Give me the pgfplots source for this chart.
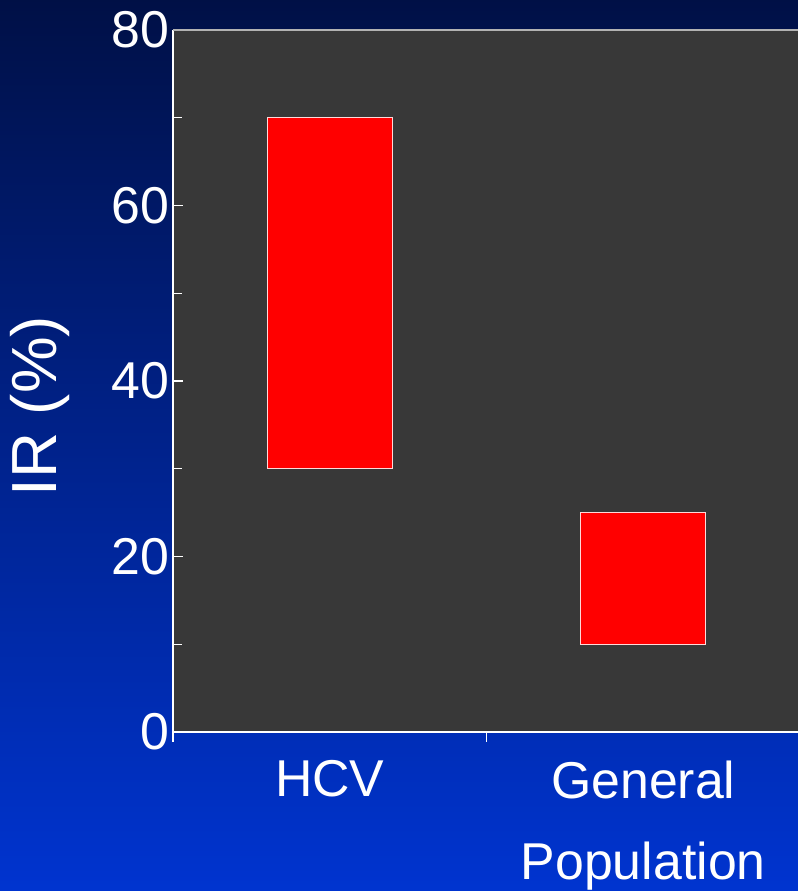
\documentclass[border=0pt]{standalone}
\usepackage{fontspec}
\setmainfont{Liberation Sans}
\usepackage{pgfplots}
\pgfplotsset{compat=1.18}

\definecolor{bgtop}{RGB}{0,16,70}
\definecolor{bgbot}{RGB}{0,52,208}
\definecolor{plotbg}{RGB}{56,56,56}
\definecolor{barred}{RGB}{255,0,0}

\begin{document}
\begin{tikzpicture}
  % slide background
  \shade[top color=bgtop, bottom color=bgbot] (-2bp,-2bp) rectangle (802bp,893bp);
  \begin{axis}[
      at={(173bp,159bp)}, anchor=south west,
      scale only axis, width=640bp, height=702bp,
      axis background/.style={fill=plotbg},
      ybar stacked, bar width=125bp,
      xmin=0, xmax=2.0415, ymin=0, ymax=80,
      enlargelimits=false,
      axis x line*=bottom, axis y line*=left,
      axis line style={white, line width=1.2pt},
      xtick={0,1,2}, xticklabels={},
      extra x ticks={0.5,1.5},
      extra x tick labels={HCV,{General\\Population}},
      extra x tick style={major tick length=0pt},
      xtick align=outside, ytick align=inside,
      ytick={0,20,40,60,80}, minor y tick num=1,
      major tick length=10bp, minor tick length=9bp,
      every tick/.style={white, line width=1.2pt},
      /pgf/number format/assume math mode=true,
      ticklabel style={text=white},
      xticklabel style={font=\fontsize{52}{82}\selectfont, align=center, yshift=-25bp},
      yticklabel style={font=\fontsize{52}{60}\selectfont},
      ylabel={IR (\%)},
      ylabel style={font=\fontsize{64}{70}\selectfont, text=white,
        at={(axis description cs:-0.208,0.464)}, anchor=center},
    ]
    % lower (invisible) part of each floating bar
    \addplot[draw=none, fill=none] coordinates {(0.5,30) (1.5,10)};
    % visible range
    \addplot[fill=barred, draw=white!85!red, line width=1pt] coordinates {(0.5,40) (1.5,15)};
    \draw[gray!60!white, line width=1.5pt] (rel axis cs:0,1) -- (rel axis cs:1,1);
  \end{axis}
  \pgfresetboundingbox
  \useasboundingbox (0,0) rectangle (798bp,891bp);
\end{tikzpicture}
\end{document}
